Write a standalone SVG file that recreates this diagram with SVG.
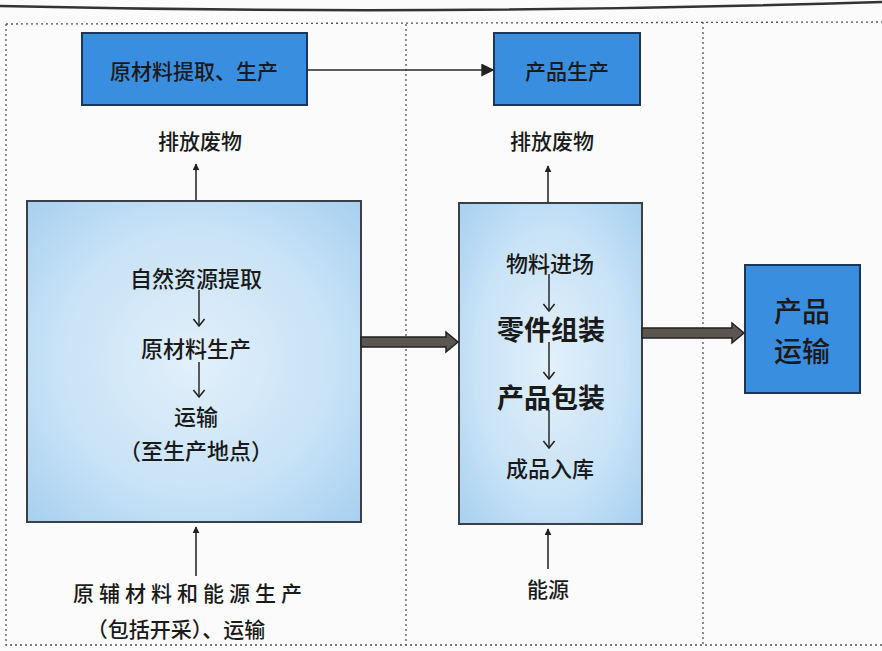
<svg xmlns="http://www.w3.org/2000/svg" width="882" height="651" viewBox="0 0 882 651">
<defs>
<style>
.t{font-family:"Noto Sans CJK SC","Noto Sans",sans-serif;fill:#1a1a1a;text-anchor:middle;dominant-baseline:central;font-weight:500}
.b{font-weight:bold}
.dash{fill:none;stroke:#555;stroke-width:1.3;stroke-dasharray:2 3}
.blue{fill:#3a8ee0;stroke:#1d3558;stroke-width:2}
.pale{fill:url(#pg);stroke:#3a3f48;stroke-width:2}
.thin{stroke:#2a2a2a;stroke-width:1.6;fill:none}
.inner{stroke:#2a2a2a;stroke-width:1.5;fill:none}
.fat{fill:#5b5650;stroke:#222;stroke-width:1.5}
</style>
<radialGradient id="pg" cx="0.5" cy="0.5" r="0.7">
<stop offset="0" stop-color="#e2f0fa"/>
<stop offset="0.6" stop-color="#c8e2f6"/>
<stop offset="1" stop-color="#a7d0f0"/>
</radialGradient>
<marker id="ah" viewBox="0 0 10 10" refX="9" refY="5" markerWidth="7" markerHeight="7" orient="auto" markerUnits="userSpaceOnUse">
<path d="M0,0 L10,5 L0,10 z" fill="#222"/>
</marker>
<marker id="ah2" viewBox="0 0 10 10" refX="9" refY="5" markerWidth="13" markerHeight="13" orient="auto" markerUnits="userSpaceOnUse">
<path d="M0,0 L10,5 L0,10 z" fill="#222"/>
</marker>
<marker id="vh" viewBox="0 0 10 10" refX="9" refY="5" markerWidth="14" markerHeight="14" orient="auto" markerUnits="userSpaceOnUse">
<path d="M4,1 L9,5 L4,9" fill="none" stroke="#222" stroke-width="1.1"/>
</marker>
</defs>
<rect width="882" height="651" fill="#fbfbfb"/>
<path d="M0,6 Q440,16 882,2" fill="none" stroke="#333" stroke-width="2.5"/>
<g id="frame">
<path class="dash" d="M6,24 L6,645 L882,645 M6,24 L882,22"/>
<path class="dash" d="M406,24 L406,645"/>
<path class="dash" d="M703,22 L703,645"/>
</g>
<g id="n-raw-top">
<rect class="blue" x="82" y="33" width="225" height="72"/>
<text class="t" x="194" y="70" font-size="21">原材料提取、生产</text>
</g>
<g id="n-prod-top">
<rect class="blue" x="494" y="33" width="146" height="72"/>
<text class="t" x="567" y="70" font-size="21">产品生产</text>
</g>
<g id="n-waste-l"><text class="t" x="200" y="140" font-size="21">排放废物</text></g>
<g id="n-waste-r"><text class="t" x="552" y="140" font-size="21">排放废物</text></g>
<g id="n-left">
<rect class="pale" x="27" y="201" width="334" height="321"/>
<text class="t" x="196" y="277" font-size="22">自然资源提取</text>
<text class="t" x="196" y="347" font-size="22">原材料生产</text>
<text class="t" x="196" y="415" font-size="22">运输</text>
<text class="t" x="196" y="449" font-size="22">（至生产地点）</text>
<path class="inner" d="M199,290 L199,326" marker-end="url(#vh)"/>
<path class="inner" d="M199,362 L199,397" marker-end="url(#vh)"/>
</g>
<g id="n-mid">
<rect class="pale" x="459" y="203" width="183" height="321"/>
<text class="t" x="550" y="262" font-size="22">物料进场</text>
<text class="t b" x="551" y="328" font-size="27">零件组装</text>
<text class="t b" x="551" y="396" font-size="27">产品包装</text>
<text class="t" x="550" y="467" font-size="22">成品入库</text>
<path class="inner" d="M549,274 L549,311" marker-end="url(#vh)"/>
<path class="inner" d="M549,342 L549,379" marker-end="url(#vh)"/>
<path class="inner" d="M549,410 L549,448" marker-end="url(#vh)"/>
</g>
<g id="n-ship">
<rect class="blue" x="745" y="265" width="115" height="128"/>
<text class="t" x="802" y="310" font-size="28" font-weight="400">产品</text>
<text class="t" x="802" y="350" font-size="28" font-weight="400">运输</text>
</g>
<g id="n-input-l">
<text class="t" x="190" y="592" font-size="21" letter-spacing="5">原辅材料和能源生产</text>
<text class="t" x="176" y="628" font-size="21">（包括开采）、运输</text>
</g>
<g id="n-input-r"><text class="t" x="548" y="588" font-size="21">能源</text></g>
<g id="connectors">
<path class="thin" d="M307,70 L493,70" marker-end="url(#ah2)"/>
<path class="thin" d="M196,200 L196,164" marker-end="url(#ah)"/>
<path class="thin" d="M548,203 L548,166" marker-end="url(#ah)"/>
<path class="thin" d="M196,576 L196,527" marker-end="url(#ah)"/>
<path class="thin" d="M548,569 L548,529" marker-end="url(#ah)"/>
<path class="fat" d="M361,337 L446,337 L446,332 L458,342 L446,352 L446,347 L361,347 z"/>
<path class="fat" d="M642,328 L732,328 L732,323 L744,333 L732,343 L732,338 L642,338 z"/>
</g>
</svg>
